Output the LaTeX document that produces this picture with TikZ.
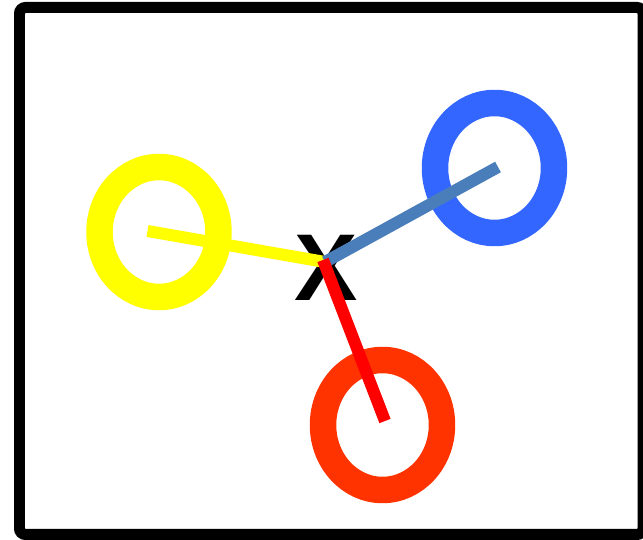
\documentclass[tikz,border=0pt]{standalone}
\usepackage{fontspec}
\newfontfamily\labelfont{Liberation Sans}
\usetikzlibrary{shapes.geometric}
\definecolor{ringyellow}{RGB}{255, 255, 0}
\definecolor{ringblue}{RGB}{51, 102, 255}
\definecolor{ringred}{RGB}{255, 51, 0}
\definecolor{spokeblue}{RGB}{74, 126, 187}
\definecolor{spokered}{RGB}{255, 0, 0}
\tikzset{
    ring/.style={ellipse, draw, line width=0.53cm, minimum width=2.38cm, minimum height=2.6cm, inner sep=0pt},
    spoke/.style={line width=0.24cm, line cap=butt},
    frame/.style={draw=black, line width=0.22cm, rounded corners=0.12cm}
}
\begin{document}
\begin{tikzpicture}[x=0.02cm, y=-0.02cm]
        \useasboundingbox (0,0) rectangle (643,540);
        \draw[frame] (19.5,7.5) rectangle (643,534.5);

        \node[ring, draw=ringyellow] (yring) at (159,232) {};
        \node[ring, draw=ringblue] (bring) at (494.5,168) {};
        \node[ring, draw=ringred] (rring) at (382.5,425) {};
        \node[font=\labelfont\bfseries\fontsize{54pt}{54pt}\selectfont, inner sep=0pt] (xlabel) at (326,268) {X};
        \coordinate (hub) at (325,262);

        \draw[spoke, ringyellow] ([xshift=-0.23cm, yshift=0.02cm]yring.center) -- (hub);
        \draw[spoke, spokeblue] ([xshift=0.07cm, yshift=0.02cm]bring.center) -- (hub);
        \draw[spoke, spokered] ([xshift=0.05cm, yshift=0.08cm]rring.center) -- ([xshift=-0.04cm, yshift=0.04cm]hub);
    \end{tikzpicture}
\end{document}
